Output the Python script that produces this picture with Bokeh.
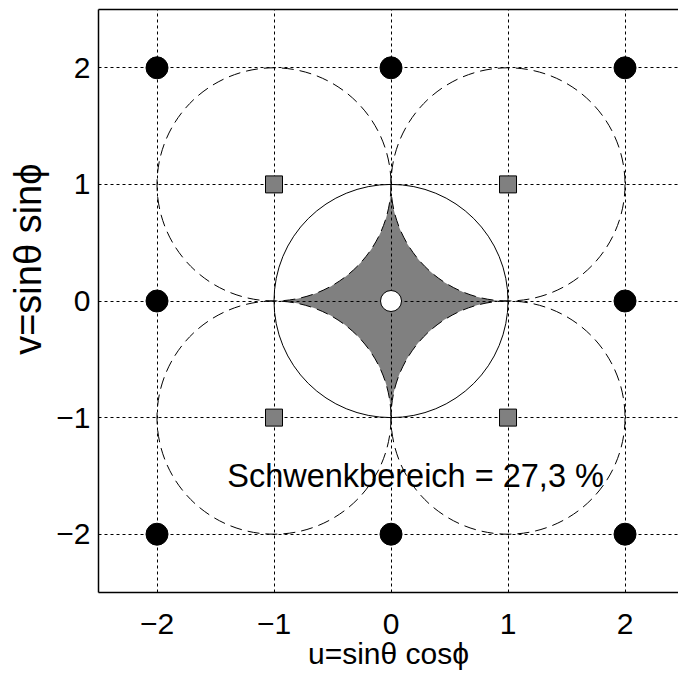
import numpy as np
from bokeh.plotting import figure
from bokeh.models import Range1d, FixedTicker, LinearAxis, Title
from bokeh.core.properties import value
from bokeh.embed import file_html
from bokeh.resources import INLINE

# Element positions in the (u, v) plane
lattice_u = [-2, 0, 2, -2, 2, -2, 0, 2]
lattice_v = [2, 2, 2, 0, 0, -2, -2, -2]
# Grating lobe positions
lobe_u = [-1, 1, -1, 1]
lobe_v = [1, 1, -1, -1]
# Main beam
main_u = [0]
main_v = [0]
# Visible region (unit circle) and the shifted unit circles
visible_u = [0]
visible_v = [0]
visible_r = 1.0
shifted_u = [1, -1, -1, 1]
shifted_v = [1, 1, -1, -1]
shifted_r = 1.0

ticks = [-2, -1, 0, 1, 2]
tick_labels = ["\u22122", "\u22121", "0", "1", "2"]
x_title = "u=sin\u03b8 cos\u03d5"
y_title = "v=sin\u03b8 sin\u03d5"
scan_text = "Schwenkbereich = 27,3 %"

FONT = "Liberation Sans"
FS = "30px"

p = figure(width=678, height=673, output_backend="svg", toolbar_location=None,
           x_range=Range1d(-2.5, 2.457), y_range=Range1d(-2.5, 2.5),
           min_border_left=98, min_border_right=0, min_border_top=9,
           min_border_bottom=81, outline_line_color=None,
           background_fill_color="white", border_fill_color="white")

# Scan region: inside the unit circle, outside the four shifted circles
region_u, region_v = [], []
for cu, cv in zip(shifted_u, shifted_v):
    d = np.arctan2(-cv, -cu)
    t = np.linspace(d + np.pi / 4, d - np.pi / 4, 120)
    region_u.extend(cu + shifted_r * np.cos(t))
    region_v.extend(cv + shifted_r * np.sin(t))
p.patch(region_u, region_v, fill_color="#808080", line_color=None, level="image")

# Circles
p.ellipse(x=shifted_u, y=shifted_v, width=2 * shifted_r, height=2 * shifted_r,
          fill_color=None, line_color="black", line_width=1, line_dash="12 6")
p.ellipse(x=visible_u, y=visible_v, width=2 * visible_r, height=2 * visible_r,
          fill_color=None, line_color="black", line_width=1)

# Markers
p.scatter(lattice_u, lattice_v, marker="circle", size=22,
          fill_color="black", line_color="black")
p.scatter(lobe_u, lobe_v, marker="square", size=17,
          fill_color="#808080", line_color="black", line_width=1)
p.scatter(main_u, main_v, marker="circle", size=21,
          fill_color="white", line_color="black", line_width=1)

p.text(x=[-1.4], y=[-1.5], text=[scan_text], text_align="left",
       text_baseline="middle", text_font=value(FONT), text_font_size="32.5px",
       text_color="black")

# Grid
for g in (p.xgrid, p.ygrid):
    g.ticker = FixedTicker(ticks=ticks)
    g.grid_line_color = "black"
    g.grid_line_dash = "3 3"
    g.grid_line_width = 1

# Axes
overrides = {t: s for t, s in zip(ticks, tick_labels)}
for ax in (p.xaxis[0], p.yaxis[0]):
    ax.ticker = FixedTicker(ticks=ticks)
    ax.major_label_overrides = overrides
    ax.major_label_text_font = FONT
    ax.major_label_text_font_size = FS
    ax.major_label_text_color = "black"
    ax.axis_line_color = "black"
    ax.axis_line_width = 1.5
    ax.major_tick_in = 0
    ax.major_tick_out = 0
    ax.minor_tick_in = 0
    ax.minor_tick_out = 0
    ax.major_tick_line_color = None
    ax.minor_tick_line_color = None
    ax.axis_label_text_font = FONT
    ax.axis_label_text_font_size = FS
    ax.axis_label_text_font_style = "normal"
    ax.axis_label_text_color = "black"
p.xaxis[0].major_label_standoff = 21
p.yaxis[0].major_label_standoff = 8
p.xaxis[0].axis_label = x_title
p.xaxis[0].axis_label_standoff = 0

top = LinearAxis(ticker=FixedTicker(ticks=[]), axis_line_color="black",
                 axis_line_width=1.5, major_tick_line_color=None,
                 minor_tick_line_color=None, major_tick_in=0, major_tick_out=0,
                 minor_tick_in=0, minor_tick_out=0, major_label_standoff=0,
                 major_label_text_font_size="0px")
p.add_layout(top, "above")

p.add_layout(Title(text=y_title, align="right", offset=154,
                   vertical_align="middle", text_font=FONT, text_font_size="38px",
                   text_font_style="normal", text_color="black", standoff=8),
             "left")

open("out.html", "w").write(file_html(p, INLINE))
